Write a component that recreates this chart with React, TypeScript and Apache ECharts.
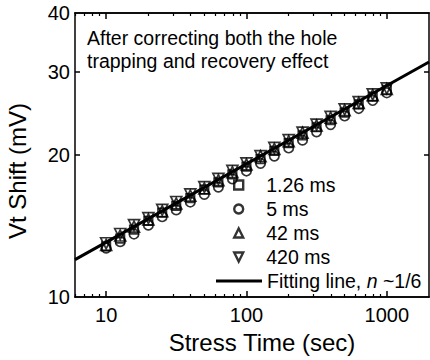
import React, { useEffect, useRef } from 'react';
import * as echarts from 'echarts';

// Stress time (sec) of the measured points
const stressTime = [10, 12.6, 15.8, 20, 25.1, 31.6, 39.8, 50.1, 63.1, 79.4, 100, 126, 158, 200, 251, 316, 398, 501, 631, 794, 1000];
// Vt shift (mV) for each delay
const shift126 = [12.8, 13.3, 13.9, 14.5, 15.1, 15.6, 16.2, 16.9, 17.5, 18.2, 18.9, 19.6, 20.4, 21.2, 22.0, 22.9, 23.7, 24.6, 25.6, 26.6, 27.5];
const shift5 = [12.7, 13.1, 13.6, 14.2, 14.8, 15.3, 15.9, 16.5, 17.1, 17.8, 18.5, 19.2, 19.9, 20.7, 21.5, 22.4, 23.2, 24.2, 25.1, 26.1, 27.1];
const shift42 = [12.9, 13.5, 14.1, 14.6, 15.2, 15.8, 16.4, 17.0, 17.7, 18.4, 19.1, 19.9, 20.6, 21.4, 22.3, 23.1, 24.0, 24.9, 25.8, 26.8, 27.6];
const shift420 = [13.0, 13.6, 14.2, 14.7, 15.3, 15.9, 16.5, 17.1, 17.8, 18.5, 19.2, 19.9, 20.7, 21.5, 22.3, 23.2, 24.1, 25.0, 25.9, 26.9, 27.7];
// Fitting line end points
const fitTime = [6, 2000];
const fitShift = [12.0, 31.5];
// Axis ranges and ticks
const xRange = [6, 2000];
const yRange = [10, 40];
const xMajorTicks = [10, 100, 1000];
const xMinorTicks = [6, 7, 8, 9, 20, 30, 40, 50, 60, 70, 80, 90, 200, 300, 400, 500, 600, 700, 800, 900];
const yTickLabels = [10, 20, 30, 40];
const yInnerTicks = [20, 30];
const markerNames = ['1.26 ms', '5 ms', '42 ms', '420 ms'];
const fitName = 'Fitting line';

const lg = (v: number) => Math.log10(v);
const FONT = '"Liberation Sans", Arial, Helvetica, sans-serif';
const fmt = (v: number) => String(Math.round(Math.pow(10, v)));
const DOWN_TRI = 'path://M0,0 L10,0 L5,10 Z';

export default function App() {
  const ref = useRef<HTMLDivElement>(null);
  useEffect(() => {
    if (!ref.current) return;
    const chart = echarts.init(ref.current, null, { renderer: 'svg' });
    const axisLine = { show: true, lineStyle: { color: '#000', width: 1.5 } };
    const xBase = { type: 'value', min: lg(xRange[0]), max: lg(xRange[1]), splitLine: { show: false }, axisLine };
    const yBase = { type: 'value', min: lg(yRange[0]), max: lg(yRange[1]), splitLine: { show: false }, axisLine };
    const markerStyle = { color: 'transparent', borderColor: '#000', borderWidth: 1.7 };
    const legendMarker = { color: 'transparent', borderColor: '#000', borderWidth: 2.4 };
    const mk = (vals: number[]) => stressTime.map((t, i) => [lg(t), lg(vals[i])]);
    const option: any = {
      animation: false,
      backgroundColor: '#fff',
      textStyle: { fontFamily: FONT },
      grid: { left: 75, top: 13, width: 354, height: 284, containLabel: false },
      xAxis: [
        { ...xBase, position: 'bottom',
          axisTick: { inside: true, length: 6, customValues: xMajorTicks.map(lg), lineStyle: { color: '#000', width: 1.5 } },
          axisLabel: { customValues: xMajorTicks.map(lg), formatter: fmt, fontSize: 20, color: '#000', margin: 8, fontFamily: FONT } },
        { ...xBase, position: 'bottom',
          axisTick: { inside: true, length: 3, customValues: xMinorTicks.map(lg), lineStyle: { color: '#000', width: 1.2 } },
          axisLabel: { show: false } },
        { ...xBase, position: 'top',
          axisTick: { inside: true, length: 6, customValues: xMajorTicks.map(lg), lineStyle: { color: '#000', width: 1.5 } },
          axisLabel: { show: false } },
        { ...xBase, position: 'top',
          axisTick: { inside: true, length: 3, customValues: xMinorTicks.map(lg), lineStyle: { color: '#000', width: 1.2 } },
          axisLabel: { show: false } },
      ],
      yAxis: [
        { ...yBase, position: 'left',
          axisTick: { inside: true, length: 5, customValues: yInnerTicks.map(lg), lineStyle: { color: '#000', width: 1.5 } },
          axisLabel: { customValues: yTickLabels.map(lg), formatter: fmt, fontSize: 20, color: '#000', margin: 5, fontFamily: FONT } },
        { ...yBase, position: 'right',
          axisTick: { inside: true, length: 5, customValues: yInnerTicks.map(lg), lineStyle: { color: '#000', width: 1.5 } },
          axisLabel: { show: false } },
      ],
      legend: [
        {
          orient: 'vertical', left: 233, top: 175, padding: 0, itemGap: 4,
          itemWidth: 9, itemHeight: 9,
          itemStyle: legendMarker,
          data: markerNames.map((n) => ({ name: n, itemStyle: legendMarker })),
          textStyle: { fontSize: 19.5, color: '#000', lineHeight: 20, fontFamily: FONT,
            rich: { a: { fontSize: 19.5, lineHeight: 20, fontFamily: FONT, padding: [0, 0, 0, 18] } } },
          formatter: (name: string) => '{a|' + name + '}',
        },
        {
          orient: 'vertical', left: 216, top: 271, padding: 0,
          itemWidth: 46, itemHeight: 8,
          data: [{ name: fitName, icon: 'path://M0,0 L46,0 L46,3 L0,3 Z' }],
          textStyle: { fontSize: 19.5, color: '#000', lineHeight: 20, fontFamily: FONT,
            rich: { i: { fontStyle: 'italic', fontSize: 19.5, lineHeight: 20, fontFamily: FONT } } },
          formatter: () => 'Fitting line, {i|n} ~1/6',
        },
      ],
      graphic: [
        { type: 'text', left: 87, top: 28, style: { text: 'After correcting both the hole', fontSize: 19.5, fill: '#000', fontFamily: FONT } },
        { type: 'text', left: 87, top: 51, style: { text: 'trapping and recovery effect', fontSize: 19.5, fill: '#000', fontFamily: FONT } },
        { type: 'text', x: 262, y: 342, style: { text: 'Stress Time (sec)', fontSize: 24, fill: '#000', fontFamily: FONT, align: 'center', verticalAlign: 'middle' } },
        { type: 'text', x: 17, y: 171, rotation: Math.PI / 2, style: { text: 'Vt Shift (mV)', fontSize: 24, fill: '#000', fontFamily: FONT, align: 'center', verticalAlign: 'middle' } },
      ],
      series: [
        { name: fitName, type: 'line', xAxisIndex: 0, yAxisIndex: 0, symbol: 'none', z: 1,
          lineStyle: { color: '#000', width: 3 }, itemStyle: { color: '#000' },
          data: fitTime.map((t, i) => [lg(t), lg(fitShift[i])]) },
        { name: markerNames[0], type: 'scatter', symbol: 'rect', symbolSize: 8.5, itemStyle: markerStyle, z: 3, data: mk(shift126) },
        { name: markerNames[1], type: 'scatter', symbol: 'circle', symbolSize: 9.5, itemStyle: markerStyle, z: 3, data: mk(shift5) },
        { name: markerNames[2], type: 'scatter', symbol: 'triangle', symbolSize: 11, itemStyle: markerStyle, z: 3, data: mk(shift42) },
        { name: markerNames[3], type: 'scatter', symbol: DOWN_TRI, symbolSize: 11, itemStyle: markerStyle, z: 3, data: mk(shift420) },
      ],
    };
    chart.setOption(option);
    return () => chart.dispose();
  }, []);
  return <div ref={ref} style={{ position: 'fixed', left: 0, top: 0, width: 430, height: 360, background: '#fff' }} />;
}
